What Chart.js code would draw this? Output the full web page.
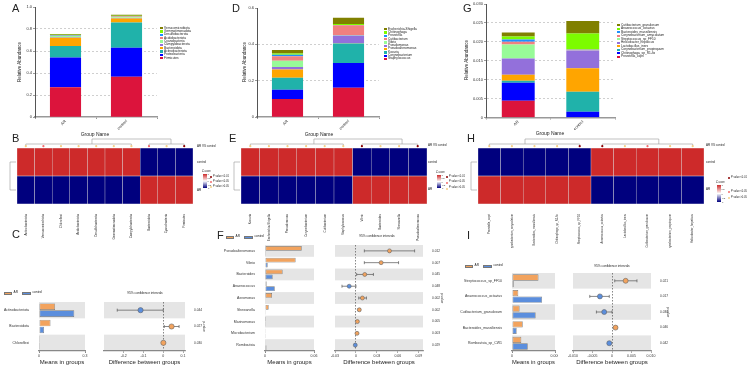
<!DOCTYPE html>
<html>
<head>
<meta charset="utf-8">
<script src="https://cdn.jsdelivr.net/npm/chart.js@4.4.1/dist/chart.umd.min.js"></script>
<style>
body { margin: 0; background: #fff; width: 753px; height: 368px; position: relative; overflow: hidden; font-family: Arial, "Liberation Sans", sans-serif; }
canvas, .t, .box { position: absolute; }
.t { white-space: nowrap; color: #222; line-height: 1; }
</style>
</head>
<body>
<script>
// groups
var groups = ['AR', 'control'];
var stackColors = ['#DC143C', '#0000FF', '#20B2AA', '#FFA500', '#9370DB', '#98FB98', '#F08080', '#1E90FF', '#7CFC00', '#808000'];

// A - phylum level relative abundance
var phylaNames = ['Firmicutes', 'Proteobacteria', 'Actinobacteriota', 'Bacteroidota', 'Campylobacterota', 'Cyanobacteria', 'Acidobacteriota', 'Desulfobacterota', 'Gemmatimonadota', 'Verrucomicrobiota'];
var phylaAR = [0.270, 0.270, 0.105, 0.075, 0.004, 0.012, 0.003, 0.004, 0.004, 0.008];
var phylaCtrl = [0.365, 0.265, 0.230, 0.035, 0.004, 0.008, 0.006, 0.004, 0.004, 0.009];

// D - genus level
var genusNames = ['Staphylococcus', 'Corynebacterium', 'Kocuria', 'Pseudoalteromonas', 'Pseudomonas', 'Vibrio', 'Cutibacterium', 'Prevotella', 'Chitinophaga', 'Escherichia-Shigella'];
var genusAR = [0.099, 0.051, 0.066, 0.046, 0.013, 0.035, 0.024, 0.009, 0.007, 0.019];
var genusCtrl = [0.161, 0.136, 0.107, 0.002, 0.042, 0.003, 0.054, 0.002, 0.005, 0.035];

// G - species level
var speciesNames = ['Prevotella_copri', 'Chitinophaga_sp_R1-fix', 'Corynebacterium_propinquum', 'Lactobacillus_iners', 'Helicobacter_hepaticus', 'Streptococcus_sp_FF10', 'Corynebacterium_amycolatum', 'Bacteroides_massiliensis', 'Anaerococcus_octavius', 'Cutibacterium_granulosum'];
var speciesAR = [0.0044, 0.0048, 0.0005, 0.0016, 0.0043, 0.0037, 0.0007, 0.0006, 0.0008, 0.0011];
var speciesCtrl = [0.0000, 0.0015, 0.0053, 0.0062, 0.0047, 0.0001, 0.0001, 0.0001, 0.0042, 0.0033];

// B, E, H - heatmaps (z-score of control row, AR row is the opposite)
var heatColsB = ['Actinobacteriota', 'Verrucomicrobiota', 'Chloroflexi', 'Acidobacteriota', 'Desulfobacterota', 'Gemmatimonadota', 'Campylobacterota', 'Bacteroidota', 'Cyanobacteria', 'Firmicutes'];
var zCtrlB = [0.71, 0.71, 0.71, 0.71, 0.71, 0.71, 0.71, -0.71, -0.71, -0.71];
var sigB = [2, 1, 2, 2, 2, 2, 2, 1, 2, 0];
var heatColsE = ['Kocuria', 'Escherichia-Shigella', 'Pseudomonas', 'Corynebacterium', 'Cutibacterium', 'Staphylococcus', 'Vibrio', 'Bacteroides', 'Shewanella', 'Pseudoalteromonas'];
var zCtrlE = [0.71, 0.71, 0.71, 0.71, 0.71, 0.71, -0.71, -0.71, -0.71, -0.71];
var sigE = [2, 2, 2, 2, 2, 2, 0, 2, 2, 0];
var heatColsH = ['Prevotella_copri', 'Corynebacterium_amycolatum', 'Bacteroides_massiliensis', 'Chitinophaga_sp_R1-fix', 'Streptococcus_sp_FF10', 'Anaerococcus_octavius', 'Lactobacillus_iners', 'Cutibacterium_granulosum', 'Corynebacterium_propinquum', 'Helicobacter_hepaticus'];
var zCtrlH = [-0.71, -0.71, -0.71, -0.71, -0.71, 0.71, 0.71, 0.71, 0.71, 0.71];
var sigH = [2, 2, 2, 2, 0, 0, 2, 1, 2, 2];

// C - phylum t-test
var rowsC = ['Actinobacteriota', 'Bacteroidota', 'Chloroflexi'];
var meanARC = [0.105, 0.075, 0.001];
var meanCtrlC = [0.230, 0.033, 0.0005];
var diffC = [-0.115, 0.042, 0.0005];
var loC = [-0.233, 0.005, -0.001];
var hiC = [0.0, 0.080, 0.002];
var pC = ['0.044', '0.027', '0.030'];

// F - genus t-test
var rowsF = ['Pseudoalteromonas', 'Vibrio', 'Bacteroides', 'Anaerococcus', 'Aeromonas', 'Shewanella', 'Marinomonas', 'Microbacterium', 'Romboutsia'];
var meanARF = [0.045, 0.0375, 0.0216, 0.002, 0.0086, 0.0045, 0.0012, 0.001, 0.0008];
var meanCtrlF = [0.0002, 0.0033, 0.0094, 0.012, 0.0006, 0.0002, 0.0002, 0.0002, 0.0018];
var diffF = [0.048, 0.036, 0.0126, -0.0097, 0.0092, 0.0048, 0.002, 0.0015, -0.001];
var loF = [0.012, 0.012, 0.001, -0.020, 0.004, 0.003, 0.001, 0.0005, -0.002];
var hiF = [0.084, 0.061, 0.025, 0.0, 0.015, 0.0065, 0.003, 0.0025, 0.0];
var pF = ['0.012', '0.007', '0.045', '0.048', '0.002', '0.002', '0.005', '0.003', '0.029'];

// I - species t-test
var rowsI = ['Streptococcus_sp_FF10', 'Anaerococcus_octavius', 'Cutibacterium_granulosum', 'Bacteroides_massiliensis', 'Romboutsia_sp_CW1'];
var meanARI = [0.0037, 0.00088, 0.00106, 0.0015, 0.0013];
var meanCtrlI = [0.00024, 0.0042, 0.0033, 0.00065, 0.0022];
var diffI = [0.0035, -0.0031, -0.002, 0.0009, -0.0007];
var loI = [0.0007, -0.0057, -0.004, 0.0005, -0.0011];
var hiI = [0.0064, -0.0007, 0.0, 0.0013, -0.0003];
var pI = ['0.021', '0.017', '0.030', '0.046', '0.042'];

var AR_COL = '#F2A35E', CTRL_COL = '#5B8EDD';
var RED = '#CD2A2A', NAVY = '#00007E';
var sigColors = ['#8B0000', '#F26B6B', '#F5CF86'];

Chart.defaults.font.family = 'Arial, "Liberation Sans", sans-serif';
Chart.defaults.color = '#333';
Chart.defaults.animation = false;
Chart.defaults.responsive = false;
Chart.defaults.events = [];
Chart.defaults.plugins.legend.display = false;
Chart.defaults.plugins.tooltip.enabled = false;

function mk(left, top, w, h) {
  var c = document.createElement('canvas');
  c.width = w; c.height = h;
  c.style.left = left + 'px'; c.style.top = top + 'px';
  c.style.width = w + 'px'; c.style.height = h + 'px';
  document.body.appendChild(c);
  return c.getContext('2d');
}
function txt(s, x, y, size, extra) {
  var d = document.createElement('div');
  d.className = 't';
  d.textContent = s;
  d.style.left = x + 'px'; d.style.top = y + 'px'; d.style.fontSize = size + 'px';
  if (extra) Object.assign(d.style, extra);
  document.body.appendChild(d);
  return d;
}
function box(x, y, w, h, bg, extra) {
  var d = document.createElement('div');
  d.className = 'box';
  d.style.left = x + 'px'; d.style.top = y + 'px'; d.style.width = w + 'px'; d.style.height = h + 'px';
  d.style.background = bg;
  if (extra) Object.assign(d.style, extra);
  document.body.appendChild(d);
  return d;
}
function fixW(w) { return function (s) { s.width = w; s.paddingLeft = s.paddingRight = s.paddingTop = s.paddingBottom = 0; }; }
function fixH(h) { return function (s) { s.height = h; s.paddingLeft = s.paddingRight = s.paddingTop = s.paddingBottom = 0; }; }
function zColor(z) { return z > 0 ? RED : NAVY; }

// ---------- stacked bars (A, D, G) ----------
function stackChart(left, w, names, arV, ctrlV, ymax, step, padTop, padR, yW, xH) {
  var ctx = mk(left, 0, w, 132);
  new Chart(ctx, {
    type: 'bar',
    data: {
      labels: groups,
      datasets: names.map(function (n, i) {
        return {label: n, data: [arV[i], ctrlV[i]], backgroundColor: stackColors[i], barPercentage: 0.51, categoryPercentage: 1};
      })
    },
    options: {
      layout: {padding: {top: padTop, right: padR, left: 0, bottom: 0}},
      scales: {
        x: {
          stacked: true,
          grid: {drawOnChartArea: false, color: '#999', tickLength: 2},
          border: {color: '#999', width: 1.5},
          ticks: {font: {size: 4}, minRotation: 45, maxRotation: 45, padding: 0},
          afterFit: fixH(xH)
        },
        y: {
          stacked: true, min: 0, max: ymax,
          ticks: {stepSize: step, font: {size: 4}, padding: 1},
          grid: {
            color: function (c) { return (c.tick.value > 1e-9 && c.tick.value < ymax - 1e-9) ? '#b0b0b0' : 'transparent'; },
            tickColor: '#555', tickLength: 2, lineWidth: 0.6
          },
          border: {color: '#555', width: 1, dash: [2, 2]},
          afterFit: fixW(yW)
        }
      }
    }
  });
}
function stackLegend(x, y0, dy, names) {
  for (var k = 0; k < names.length; k++) {
    var i = names.length - 1 - k;
    var yc = y0 + k * dy;
    box(x, yc - 1.2, 3, 2.4, stackColors[i]);
    txt(names[i], x + 4, yc - 1.7, 3.2);
  }
}

stackChart(0, 160, phylaNames, phylaAR, phylaCtrl, 1, 0.2, 7, 3, 35, 15);
stackChart(240, 142, genusNames, genusAR, genusCtrl, 0.6, 0.2, 8, 3, 17, 15);
stackChart(462, 156, speciesNames, speciesAR, speciesCtrl, 0.03, 0.005, 4, 3, 24, 14.5);
stackLegend(160, 28.3, 3.33, phylaNames);
stackLegend(384, 29.3, 3.3, genusNames);
stackLegend(617, 25.3, 3.5, speciesNames);

// ---------- heatmaps (B, E, H) ----------
var dendroPlugin = {
  id: 'dendro',
  afterDraw: function (chart, args, o) {
    var c = chart.ctx, a = chart.chartArea, x = chart.scales.x, y = chart.scales.y;
    var y1 = a.top - 4, y0 = a.top - 9;
    c.save();
    c.strokeStyle = '#999'; c.lineWidth = 0.6;
    c.beginPath();
    o.clusters.forEach(function (cl) {
      var xa = x.getPixelForValue(cl[0]), xb = x.getPixelForValue(cl[1]);
      c.moveTo(xa, y1 + 2); c.lineTo(xa, y1); c.lineTo(xb, y1); c.lineTo(xb, y1 + 2);
    });
    var ja = x.getPixelForValue(o.join[0]), jb = x.getPixelForValue(o.join[1]);
    c.moveTo(ja, y1); c.lineTo(ja, y0); c.lineTo(jb, y0); c.lineTo(jb, y1);
    var r0 = y.getPixelForValue(0.5), r1 = y.getPixelForValue(1.5);
    c.moveTo(a.left - 1, r0); c.lineTo(a.left - 7, r0); c.lineTo(a.left - 7, r1); c.lineTo(a.left - 1, r1);
    c.stroke();
    o.sig.forEach(function (s, i) {
      c.fillStyle = sigColors[s];
      c.beginPath();
      c.arc(x.getPixelForValue(i), a.top - 1.8, 1.1, 0, 2 * Math.PI);
      c.fill();
    });
    c.restore();
  }
};
function heatChart(left, w, cols, zCtrl, sig, clusters, join, padL, padR, fs) {
  var ctx = mk(left, 128, w, 120);
  var zAR = zCtrl.map(function (v) { return -v; });
  new Chart(ctx, {
    type: 'bar',
    data: {
      labels: cols,
      datasets: [
        {label: 'AR', data: cols.map(function () { return 1; }), backgroundColor: zAR.map(zColor)},
        {label: 'control', data: cols.map(function () { return 1; }), backgroundColor: zCtrl.map(zColor)}
      ]
    },
    options: {
      layout: {padding: {top: 20, left: padL, right: padR, bottom: 0}},
      datasets: {bar: {barPercentage: 1, categoryPercentage: 1, borderWidth: 0.5, borderColor: 'rgba(210,210,210,0.6)', borderSkipped: false}},
      scales: {
        x: {
          stacked: true, grid: {display: false}, border: {display: false},
          ticks: {font: {size: fs}, minRotation: 90, maxRotation: 90, padding: 2, autoSkip: false},
          afterFit: fixH(44)
        },
        y: {stacked: true, min: 0, max: 2, display: false}
      },
      plugins: {dendro: {clusters: clusters, join: join, sig: sig}}
    },
    plugins: [dendroPlugin]
  });
}
heatChart(0, 200, heatColsB, zCtrlB, sigB, [[0, 6], [7, 9]], [3.76, 8.25], 17, 7, 3);
heatChart(225, 210, heatColsE, zCtrlE, sigE, [[0, 5], [6, 9]], [3.42, 8.16], 16, 8, 3);
heatChart(460, 250, heatColsH, zCtrlH, sigH, [[0, 4], [5, 9]], [1.58, 7.5], 18, 6, 2.8);

function heatSide(x, yTop, cbX, cbY, cbH, pX, pYs) {
  txt('AR VS control', x, yTop, 3);
  txt('control', x, yTop + 16.5, 3);
  txt('AR', x, yTop + 44, 3);
  txt('Z-score', cbX - 1, cbY - 3.5, 2.6);
  box(cbX, cbY, 4, cbH, 'linear-gradient(' + RED + ', #ffffff, ' + NAVY + ')');
  ['1', '0.5', '0', '-0.5', '-1'].forEach(function (s, i) { txt(s, cbX + 4.5, cbY + i * cbH / 4 - 1, 2.2); });
  var lab = ['P value <0.01', 'P value <0.05', 'P value >0.05'];
  for (var i = 0; i < 3; i++) {
    box(pX, pYs[i] - 1, 2, 2, sigColors[i], {borderRadius: '1px'});
    txt(lab[i], pX + 3, pYs[i] - 1.4, 2.6);
  }
}
heatSide(197, 144.5, 203, 174, 14, 210, [177, 182, 187]);
heatSide(428, 144, 437, 175, 13, 446, [177, 182.5, 188.5]);
heatSide(706, 144, 717, 185, 17, 728, [178, 192, 198]);

// ---------- means in groups + 95% CI (C, F, I) ----------
var bandPlugin = {
  id: 'bands',
  beforeDraw: function (chart) {
    var c = chart.ctx, a = chart.chartArea, y = chart.scales.y;
    var n = y.getLabels().length, h = (a.bottom - a.top) / n;
    c.save();
    c.fillStyle = '#E5E5E5';
    for (var i = 0; i < n; i += 2) {
      var yc = y.getPixelForValue(i);
      c.fillRect(a.left, yc - h / 2, a.right - a.left, h);
    }
    c.restore();
  }
};
function meansChart(left, top, w, h, rows, ar, ctrl, xmax, padTop, padR, yW) {
  var ctx = mk(left, top, w, h);
  new Chart(ctx, {
    type: 'bar',
    data: {
      labels: rows,
      datasets: [
        {label: 'AR', data: ar, backgroundColor: AR_COL, borderColor: '#777', borderWidth: 0.7, borderSkipped: false},
        {label: 'control', data: ctrl, backgroundColor: CTRL_COL, borderColor: '#777', borderWidth: 0.7, borderSkipped: false}
      ]
    },
    options: {
      indexAxis: 'y',
      layout: {padding: {top: padTop, right: padR, left: 0, bottom: 0}},
      datasets: {bar: {categoryPercentage: 0.85, barPercentage: 0.95}},
      scales: {
        x: {
          min: 0, max: xmax,
          ticks: {stepSize: xmax, font: {size: 3.5}, padding: 1},
          grid: {drawOnChartArea: false, color: '#888', tickLength: 2},
          border: {color: '#888', width: 1.2},
          title: {display: true, text: 'Means in groups', font: {size: 6}, color: '#222', padding: {top: 0, bottom: 2}},
          afterFit: fixH(17)
        },
        y: {grid: {display: false}, border: {display: false}, ticks: {font: {size: 3.5}, padding: 2, autoSkip: false}, afterFit: fixW(yW)}
      }
    },
    plugins: [bandPlugin]
  });
}
function ciChart(left, top, w, h, rows, diff, lo, hi, pv, xmin, xmax, step, padTop, padL, rW, ptR) {
  var ctx = mk(left, top, w, h);
  var ds = rows.map(function (r, i) {
    return {
      type: 'line', order: 1, data: [{x: lo[i], y: r}, {x: hi[i], y: r}],
      borderColor: '#555', borderWidth: 0.7,
      pointStyle: 'line', pointRotation: 90, pointRadius: 1.5, pointBorderColor: '#555', pointBorderWidth: 0.7
    };
  });
  ds.push({
    type: 'scatter', order: 0,
    data: rows.map(function (r, i) { return {x: diff[i], y: r}; }),
    pointRadius: ptR,
    pointBackgroundColor: diff.map(function (d) { return d >= 0 ? AR_COL : CTRL_COL; }),
    pointBorderColor: '#666', pointBorderWidth: 0.6
  });
  new Chart(ctx, {
    type: 'scatter',
    data: {datasets: ds},
    options: {
      layout: {padding: {top: padTop, left: padL, right: 0, bottom: 0}},
      scales: {
        x: {
          type: 'linear', min: xmin, max: xmax,
          ticks: {stepSize: step, includeBounds: false, font: {size: 3.5}, padding: 1},
          grid: {
            color: function (c) { return Math.abs(c.tick.value) < 1e-9 ? '#555' : 'transparent'; },
            tickColor: '#888', tickLength: 2, lineWidth: 0.7
          },
          border: {dash: [1.5, 1.5], color: '#888', width: 1.2},
          title: {display: true, text: 'Difference between groups', font: {size: 6}, color: '#222', padding: {top: 0, bottom: 2}},
          afterFit: fixH(17)
        },
        y: {type: 'category', labels: rows, offset: true, display: false},
        y2: {
          type: 'category', labels: pv, offset: true, position: 'right',
          grid: {display: false}, border: {display: false},
          ticks: {font: {size: 3.2}, padding: 1, autoSkip: false},
          title: {display: true, text: 'p-value', font: {size: 3.2}, padding: 1},
          afterFit: fixW(rW)
        }
      }
    },
    plugins: [bandPlugin]
  });
}
function groupLegend(x, y) {
  box(x, y - 1.5, 8, 3, AR_COL, {border: '0.5px solid #777', boxSizing: 'border-box'});
  txt('AR', x + 9.5, y - 1.7, 3.2);
  box(x + 18, y - 1.5, 9, 3, CTRL_COL, {border: '0.5px solid #777', boxSizing: 'border-box'});
  txt('control', x + 28.5, y - 1.7, 3.2);
}

meansChart(0, 290, 88, 78, rowsC, meanARC, meanCtrlC, 0.3, 12, 3, 39);
ciChart(95, 290, 112, 78, rowsC, diffC, loC, hiC, pC, -0.3, 0.11, 0.1, 12, 9, 22, 2.6);
groupLegend(4, 293);
txt('95% confidence intervals', 145, 294, 3.2, {transform: 'translate(-50%,-50%)'});

meansChart(218, 240, 100, 128, rowsF, meanARF, meanCtrlF, 0.06, 5, 4, 47);
ciChart(330, 240, 115, 128, rowsF, diffF, loF, hiF, pF, -0.03, 0.096, 0.03, 5, 5, 22, 2);
groupLegend(226, 237);
txt('95% confidence intervals', 377, 237, 3.2, {transform: 'translate(-50%,-50%)'});

meansChart(460, 268, 98, 100, rowsI, meanARI, meanCtrlI, 0.006, 5, 3, 52);
ciChart(565, 268, 106, 100, rowsI, diffI, loI, hiI, pI, -0.01, 0.01, 0.005, 5, 8, 20, 2.5);
groupLegend(465, 266);
txt('95% confidence intervals', 612, 267, 3.2, {transform: 'translate(-50%,-50%)'});

// ---------- texts ----------
var rot = {transform: 'translate(-50%,-50%) rotate(-90deg)'};
txt('Relative Abundance', 20, 62, 4.5, rot);
txt('Relative Abundance', 245, 62, 4.5, rot);
txt('Relative Abundance', 467, 60, 4.5, rot);
var ctr = {transform: 'translate(-50%,-50%)'};
txt('Group Name', 95, 134, 5, ctr);
txt('Group Name', 319, 134, 5, ctr);
txt('Group Name', 550, 133, 5, ctr);
[['A', 12, 3], ['D', 232, 3], ['G', 463, 3], ['B', 12, 133], ['E', 229, 133], ['H', 467, 133], ['C', 12, 229], ['F', 217, 230], ['I', 467, 230]].forEach(function (p) {
  txt(p[0], p[1], p[2], 11);
});
</script>
</body>
</html>
